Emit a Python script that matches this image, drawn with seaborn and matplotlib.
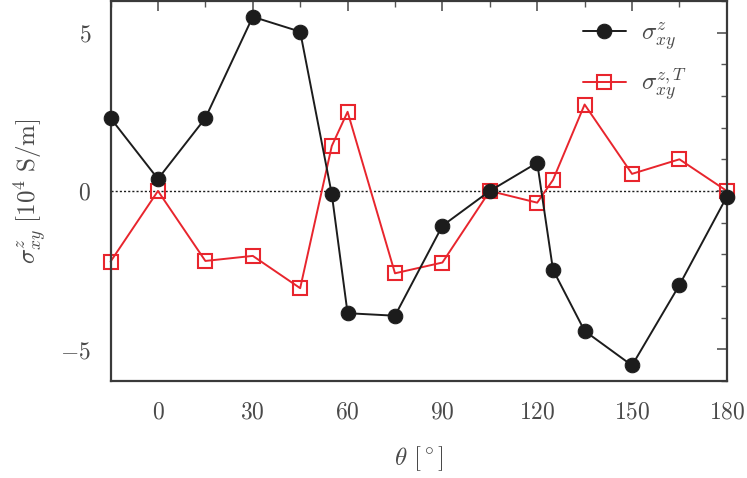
import numpy as np
import pandas as pd
import matplotlib
matplotlib.use("Agg")
import matplotlib.pyplot as plt
import seaborn as sns

# Angles (degrees) at which both conductivities were sampled
theta = [-15, 0, 15, 30, 45, 55, 60, 75, 90, 105, 120, 125, 135, 150, 165, 180]

# sigma^z_xy  [10^4 S/m]
sigma_z = [2.30, 0.38, 2.30, 5.50, 5.03, -0.10, -3.86, -3.94, -1.10, 0.00,
           0.89, -2.49, -4.42, -5.51, -2.97, -0.18]

# sigma^{z,T}_xy  [10^4 S/m]
sigma_zT = [-2.23, 0.00, -2.21, -2.05, -3.07, 1.42, 2.50, -2.60, -2.26, 0.00,
            -0.37, 0.35, 2.73, 0.54, 1.00, 0.00]

x_ticks = [0, 30, 60, 90, 120, 150, 180]
y_ticks = [-5, 0, 5]

sns.set_theme(style="white")
plt.rcParams["font.family"] = ["DejaVu Serif"]
plt.rcParams["mathtext.fontset"] = "cm"

text_col = "#4a4a4a"
black = "#1c1c1c"
red = "#e8252d"

fig = plt.figure(figsize=(7.47, 4.78), dpi=100)
ax = fig.add_axes([0.148, 0.203, 0.825, 0.795])

# Zero reference line
ax.axhline(0, color=black, lw=1.0, ls=(0, (1.5, 1.5)), zorder=1)

sns.lineplot(x=theta, y=sigma_z, ax=ax, color=black, lw=1.4, marker="o",
             markersize=10.5, markeredgecolor=black, label=r"$\sigma^z_{xy}$",
             sort=False, zorder=3, clip_on=False)
sns.lineplot(x=theta, y=sigma_zT, ax=ax, color=red, lw=1.4, marker="s",
             markersize=10, markerfacecolor="none", markeredgecolor=red,
             markeredgewidth=1.5, label=r"$\sigma^{z,T}_{xy}$",
             sort=False, zorder=2, clip_on=False)

ax.set_xlim(-15, 180)
ax.set_ylim(-6, 6)
ax.set_xticks(x_ticks)
ax.set_xticks(np.arange(-15, 181, 15), minor=True)
ax.set_yticks(y_ticks)
ax.set_yticks(np.arange(-6, 7, 1), minor=True)
ax.set_yticklabels([r"$-5$", r"$0$", r"$5$"])
ax.set_xticklabels([r"$%d$" % t for t in x_ticks])

ax.tick_params(which="both", direction="in", top=True, right=True,
               colors="#555555", labelcolor=text_col, labelsize=17)
ax.tick_params(which="major", length=7, width=1.2, pad=14)
ax.tick_params(which="minor", length=4, width=1.0)
for s in ax.spines.values():
    s.set_color("#3a3a3a")
    s.set_linewidth(1.6)

ax.set_xlabel(r"$\theta\ [^\circ]$", fontsize=18, color=text_col, labelpad=15)
ax.set_ylabel(r"$\sigma^z_{xy}\ [10^4\ \mathrm{S/m}]$", fontsize=18,
              color=text_col, labelpad=8)

leg = ax.legend(loc="upper right", frameon=False, fontsize=18,
                handlelength=1.7, handletextpad=0.6, labelspacing=0.55,
                borderaxespad=0.0, borderpad=0.0,
                bbox_to_anchor=(0.935, 0.95))
for t in leg.get_texts():
    t.set_color(text_col)

fig.savefig("out.png", dpi=100)
